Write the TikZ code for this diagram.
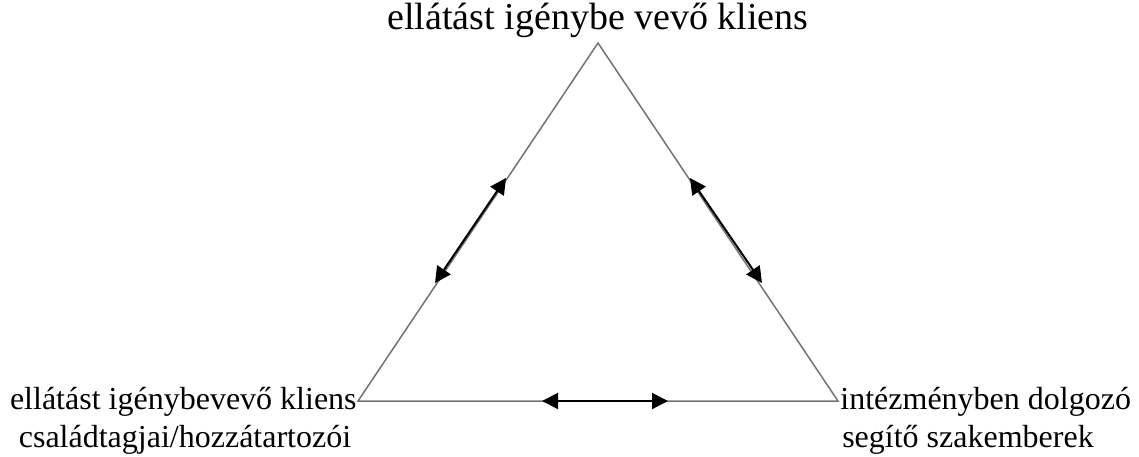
\documentclass[tikz,border=0pt]{standalone}
\usepackage{fontspec}
\setmainfont{Liberation Serif}
\usetikzlibrary{arrows.meta}
\begin{document}
\begin{tikzpicture}[x=0.5pt,y=-0.5pt,
  side/.style={draw=gray!90!black,line width=0.75pt},
  rel/.style={draw=black,line width=1pt,{Triangle[length=8pt,width=8pt]}-{Triangle[length=8pt,width=8pt]}},
  lbl/.style={font=\fontsize{16}{19}\selectfont,inner sep=0pt,align=center},
  toplbl/.style={font=\fontsize{19}{22}\selectfont,inner sep=0pt}]
\useasboundingbox (0,0) rectangle (1139,456);
\coordinate (T) at (598,43);
\coordinate (L) at (358,401);
\coordinate (R) at (838,401);
\draw[side] (T) -- (L) -- (R) -- cycle;
\coordinate (a1) at (506,178);
\coordinate (a2) at (435,283);
\coordinate (b1) at (690,178);
\coordinate (b2) at (762,283);
\coordinate (c1) at (542,401);
\coordinate (c2) at (668,401);
\draw[rel] (a2) -- (a1);
\draw[rel] (b1) -- (b2);
\draw[rel] (c1) -- (c2);
\node[toplbl,anchor=base] (top) at (598,29) {ellátást igénybe vevő kliens};
\node[lbl,anchor=base east] (left) at (357,409) {ellátást igénybevevő kliens};
\node[lbl,anchor=base] (left2) at (185,447) {családtagjai/hozzátartozói};
\node[lbl,anchor=base west] (right) at (840,409) {intézményben dolgozó};
\node[lbl,anchor=base] (right2) at (968,447) {segítő szakemberek};
\end{tikzpicture}
\end{document}
